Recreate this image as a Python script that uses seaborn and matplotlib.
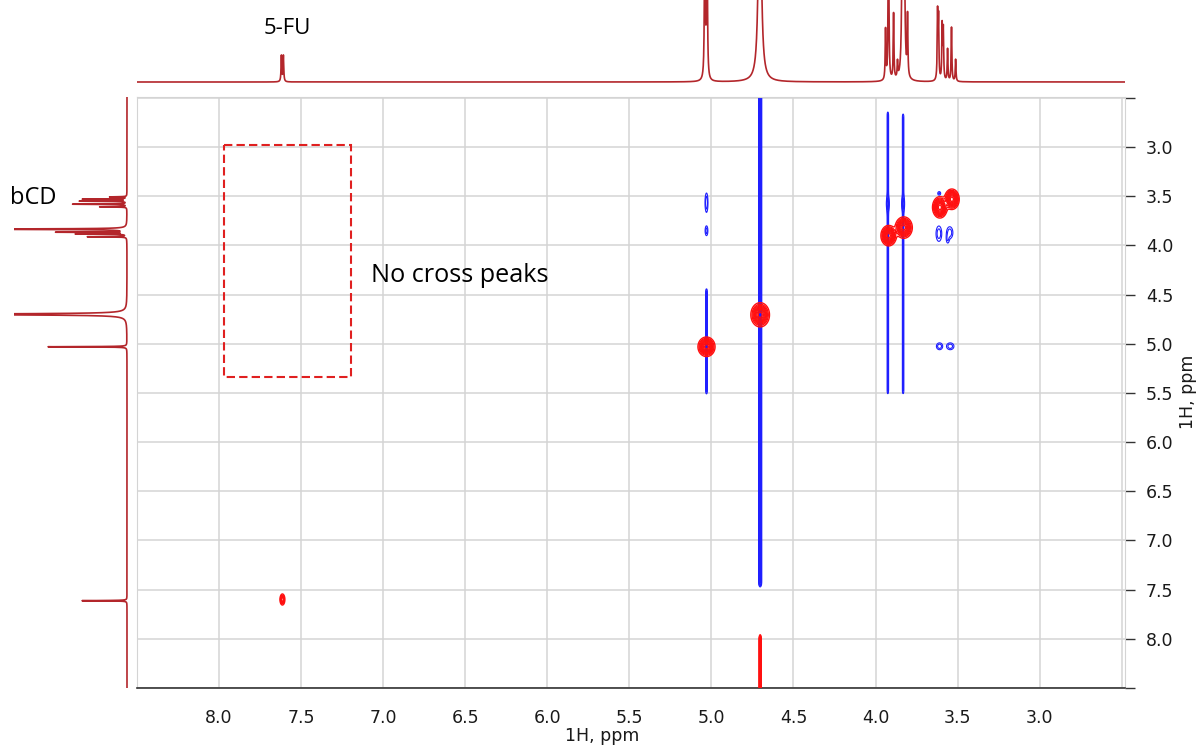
import matplotlib
matplotlib.use("Agg")
import matplotlib.pyplot as plt
import numpy as np
import pandas as pd
import seaborn as sns
from matplotlib.patches import Rectangle
from matplotlib.ticker import MultipleLocator

# axis ranges (ppm), both axes run high -> low
x_lim = (8.5, 2.48)
y_lim = (8.5, 2.49)

# top 1D projection: peak positions (ppm), heights (px), half widths (ppm)
top_ppm = [7.620, 7.608, 5.040, 5.027, 4.705, 3.939, 3.921, 3.890, 3.866,
           3.836, 3.826, 3.805, 3.622, 3.616, 3.594, 3.587, 3.561, 3.537, 3.512]
top_height = [26, 26, 220, 220, 260, 50, 200, 66, 16,
              200, 200, 60, 66, 60, 54, 50, 32, 54, 22]
top_hwhm = [0.0025, 0.0025, 0.0025, 0.0025, 0.009, 0.0025, 0.0025, 0.0025, 0.0025,
            0.004, 0.004, 0.0025, 0.0025, 0.0025, 0.0025, 0.0025, 0.0025, 0.0025, 0.0025]

# left 1D projection: peak positions (ppm), lengths (px)
left_ppm = [3.506, 3.529, 3.549, 3.580, 3.607, 3.834, 3.865, 3.883, 3.911,
            4.700, 5.030, 7.612]
left_len = [17, 44, 47, 54, 27, 200, 69, 50, 39, 220, 79, 45]
left_hwhm = [0.002, 0.002, 0.002, 0.002, 0.002, 0.003, 0.002, 0.002, 0.002,
             0.006, 0.002, 0.002]

# 2D positive (red) peaks
pos_x = [7.614, 5.030, 4.703, 3.920, 3.828, 3.608, 3.535]
pos_y = [7.600, 5.030, 4.705, 3.900, 3.818, 3.612, 3.530]
pos_sx = [0.008, 0.022, 0.024, 0.020, 0.022, 0.019, 0.019]
pos_sy = [0.030, 0.042, 0.052, 0.044, 0.046, 0.046, 0.044]
pos_amp = [0.35, 1.0, 1.0, 1.0, 1.0, 1.0, 1.0]

# 2D negative (blue) cross peaks
neg_x = [5.030, 5.030, 3.614, 3.548, 3.610, 3.545, 3.925, 3.832, 3.612, 3.548, 3.560]
neg_y = [3.565, 3.850, 3.880, 3.870, 5.025, 5.025, 3.575, 3.575, 3.470, 3.455, 3.930]
neg_sx = [0.005, 0.005, 0.010, 0.011, 0.011, 0.013, 0.005, 0.005, 0.006, 0.006, 0.006]
neg_sy = [0.055, 0.030, 0.045, 0.035, 0.020, 0.020, 0.045, 0.045, 0.012, 0.012, 0.030]
neg_amp = [0.5, 0.4, 0.45, 0.45, 0.45, 0.45, 0.5, 0.5, 0.3, 0.3, 0.3]

# t1-noise ridges (x ppm, y start, y end, width, signed amplitude)
ridge_x = [4.703, 5.030, 3.925, 3.832, 4.703]
ridge_y0 = [2.40, 4.45, 2.65, 2.67, 7.98]
ridge_y1 = [7.45, 5.50, 5.50, 5.50, 8.60]
ridge_sx = [0.0045, 0.0035, 0.003, 0.003, 0.003]
ridge_amp = [-1.0, -0.35, -0.3, -0.3, 0.6]


def lorentz_sum(axis, centers, heights, widths):
    out = np.zeros_like(axis)
    for c, h, w in zip(centers, heights, widths):
        out += h * w ** 2 / ((axis - c) ** 2 + w ** 2)
    return out


def gauss(axis, c, s):
    return np.exp(-0.5 * ((axis - c) / s) ** 2)


def box(axis, a, b, edge=0.02):
    return 0.5 * (np.tanh((axis - a) / edge) - np.tanh((axis - b) / edge))


sns.set_style("white")
plt.rcParams["font.family"] = ["DejaVu Sans"]

fig = plt.figure(figsize=(12.01, 7.49), dpi=100)
W, H = 1201, 749
ax = fig.add_axes([137 / W, (H - 688) / H, 988 / W, 591 / H])
ax_top = fig.add_axes([137 / W, (H - 85) / H, 988 / W, 85 / H])
ax_left = fig.add_axes([14 / W, (H - 688) / H, 116 / W, 591 / H])

line_red = "#b3262b"

# top projection
ppm = np.linspace(x_lim[1], x_lim[0], 30000)
top_df = pd.DataFrame({"ppm": ppm,
                       "intensity": lorentz_sum(ppm, top_ppm, top_height, top_hwhm)})
sns.lineplot(data=top_df, x="ppm", y="intensity", ax=ax_top, color=line_red,
             lw=1.2, estimator=None, sort=False)
ax_top.set_xlim(*x_lim)
ax_top.set_ylim(-3, 82)
ax_top.axis("off")

# left projection
ppm_y = np.linspace(y_lim[1], y_lim[0], 30000)
left_df = pd.DataFrame({"ppm": ppm_y,
                        "intensity": -lorentz_sum(ppm_y, left_ppm, left_len, left_hwhm)})
sns.lineplot(data=left_df, x="intensity", y="ppm", ax=ax_left, color=line_red,
             lw=1.2, estimator=None, sort=False)
ax_left.set_xlim(-113, 3)
ax_left.set_ylim(*y_lim)
ax_left.axis("off")

# 2D map
gx = np.linspace(x_lim[1], x_lim[0], 3000)
gy = np.linspace(y_lim[1], y_lim[0], 1500)
pos = np.zeros((gy.size, gx.size))
neg = np.zeros((gy.size, gx.size))
for x0, y0, sx, sy, a in zip(pos_x, pos_y, pos_sx, pos_sy, pos_amp):
    pos += a * np.outer(gauss(gy, y0, sy), gauss(gx, x0, sx))
for x0, y0, sx, sy, a in zip(neg_x, neg_y, neg_sx, neg_sy, neg_amp):
    neg += a * np.outer(gauss(gy, y0, sy), gauss(gx, x0, sx))
for x0, ya, yb, sx, a in zip(ridge_x, ridge_y0, ridge_y1, ridge_sx, ridge_amp):
    field = abs(a) * np.outer(box(gy, ya, yb), gauss(gx, x0, sx))
    if a > 0:
        pos += field
    else:
        neg += field

ax.contour(gx, gy, neg, levels=[0.1, 0.25, 0.5, 0.8], colors="#1f1fff",
           linewidths=0.8, zorder=2)
ax.contour(gx, gy, pos, levels=[0.06, 0.12, 0.19, 0.27, 0.36, 0.46, 0.58, 0.72, 0.88],
           colors="#ff1010", linewidths=1.0, zorder=3)

ax.set_xlim(*x_lim)
ax.set_ylim(*y_lim)
ax.xaxis.set_major_locator(MultipleLocator(0.5))
ax.xaxis.set_minor_locator(MultipleLocator(0.25))
ax.yaxis.set_major_locator(MultipleLocator(0.5))
ax.xaxis.set_major_formatter(lambda v, p: f"{v:.1f}" if 2.9 < v < 8.1 else "")
ax.yaxis.set_major_formatter(lambda v, p: f"{v:.1f}" if 2.9 < v < 8.1 else "")
ax.yaxis.tick_right()
ax.grid(True, which="major", color="#d4d4d4", lw=1.1)
ax.set_axisbelow(True)
ax.tick_params(axis="both", which="major", length=7, width=1, color="#333333",
               labelsize=12.5, labelcolor="#1a1a1a", direction="out", pad=8)
ax.tick_params(axis="x", which="minor", length=4, width=1, color="#333333",
               direction="out")
ax.tick_params(axis="y", which="both", left=False, right=True)
for side in ["top", "left", "right"]:
    ax.spines[side].set_color("#d4d4d4")
ax.spines["bottom"].set_color("#333333")
ax.spines["bottom"].set_linewidth(1.2)

ax.add_patch(Rectangle((7.97, 2.98), 7.195 - 7.97, 5.34 - 2.98, fill=False,
                       edgecolor="#e02020", lw=1.5, ls=(0, (4, 2)), zorder=4))

fig.text(602 / W, 1 - 736 / H, "1H, ppm", ha="center", va="center",
         fontsize=12.5, color="#1a1a1a")
fig.text(1188 / W, 1 - 392 / H, "1H, ppm", ha="center", va="center",
         rotation=90, fontsize=12.5, color="#1a1a1a")

ann_font = ["Open Sans", "DejaVu Sans"]
fig.text(287 / W, 1 - 28 / H, "5-FU", ha="center", va="center", fontsize=16,
         family=ann_font, color="black")
fig.text(33 / W, 1 - 198 / H, "bCD", ha="center", va="center", fontsize=17,
         family=ann_font, color="black")
fig.text(371 / W, 1 - 276 / H, "No cross peaks", ha="left", va="center",
         fontsize=18.2, family=ann_font, color="black")

fig.savefig("out.png", dpi=100)
